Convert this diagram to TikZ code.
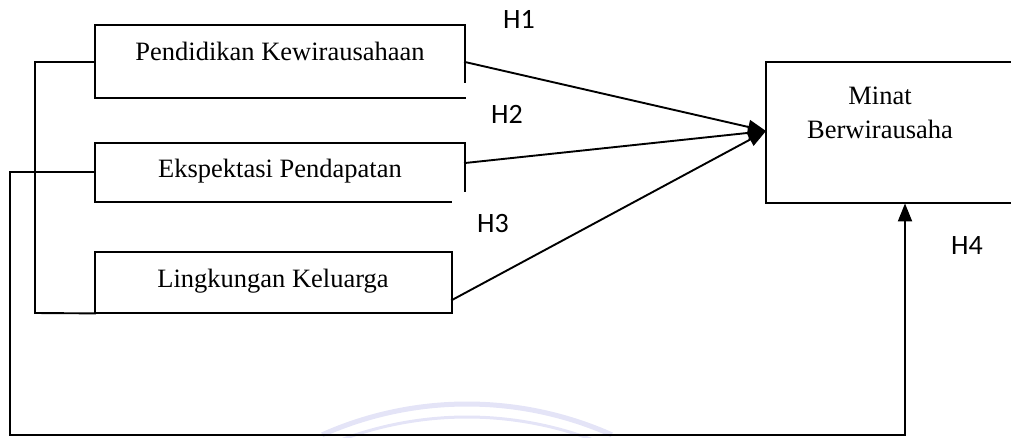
\documentclass[tikz,border=0pt]{standalone}
\usepackage{fontspec}
\setmainfont{Liberation Serif}
\newfontfamily\hfont{Carlito}
\usetikzlibrary{arrows.meta}
\definecolor{wm}{RGB}{228,228,247}
\tikzset{
  ln/.style={line width=1.9pt, line cap=rect},
  arr/.style={ln, -{Triangle[length=18pt,width=14pt]}},
  boxnode/.style={inner sep=0pt, anchor=north west},
  txt/.style={font=\fontsize{26.5}{30}\selectfont, inner sep=0pt, anchor=base},
  hyp/.style={font=\hfont\fontsize{28}{32}\selectfont, inner sep=0pt},
}
\begin{document}
\begin{tikzpicture}[x=1pt,y=-1pt]
\useasboundingbox (0,0) rectangle (1011,437);
% watermark
\draw[wm, line width=5pt] (467,760) ++(246:356) arc[start angle=246, end angle=294, radius=356];
\draw[wm, line width=3pt] (467,775) ++(246:358) arc[start angle=246, end angle=294, radius=358];
% boxes
\node[boxnode, minimum width=370, minimum height=73] (b1) at (95,25) {};
\node[boxnode, minimum width=370, minimum height=59] (b2) at (95,143) {};
\node[boxnode, minimum width=357, minimum height=61] (b3) at (95,252) {};
\node[boxnode, minimum width=260, minimum height=141] (m) at (766,62) {};
\draw[ln] (b1.south east) ++(0,-16) -- (b1.north east) -- (b1.north west) -- (b1.south west) -- (b1.south east);
\draw[ln] (b2.south east) ++(0,-11) -- (b2.north east) -- (b2.north west) -- (b2.south west) -- ++(356,0);
\draw[ln] (b3.north west) -- (b3.north east) -- (b3.south east) -- (b3.south west) -- cycle;
\draw[ln] (m.north east) -- (m.north west) -- (m.south west) -- (m.south east);
% texts
\node[txt] (t1) at (280,60) {Pendidikan Kewirausahaan};
\node[txt] (t2) at (280,177) {Ekspektasi Pendapatan};
\node[txt] (t3) at (273,287) {Lingkungan Keluarga};
\node[txt] (t4) at (880,104) {Minat};
\node[txt] (t5) at (880,138) {Berwirausaha};
% hypothesis labels
\node[hyp] (h1) at (519,19) {H1};
\node[hyp] (h2) at (507,114) {H2};
\node[hyp] (h3) at (493,224) {H3};
\node[hyp] (h4) at (967,246) {H4};
% connectors
\coordinate (tip) at (766,131);
\coordinate (s1) at (465,62);
\coordinate (s2) at (465,163);
\coordinate (s3) at (452,300);
\draw[arr] (s1) -- (tip);
\draw[arr] (s2) -- (tip);
\draw[arr] (s3) -- (tip);
\coordinate (l1) at (35,62);
\coordinate (l2) at (35,313);
\draw[ln] (b1.west |- l1) -- (l1) -- (l2) -- (b3.south west);
\coordinate (o1) at (10,172);
\coordinate (o2) at (10,435);
\coordinate (o3) at (905,435);
\draw[ln] (b2.west |- o1) -- (o1) -- (o2) -- (o3);
\draw[arr] (o3) -- (o3 |- m.south);
\end{tikzpicture}
\end{document}
